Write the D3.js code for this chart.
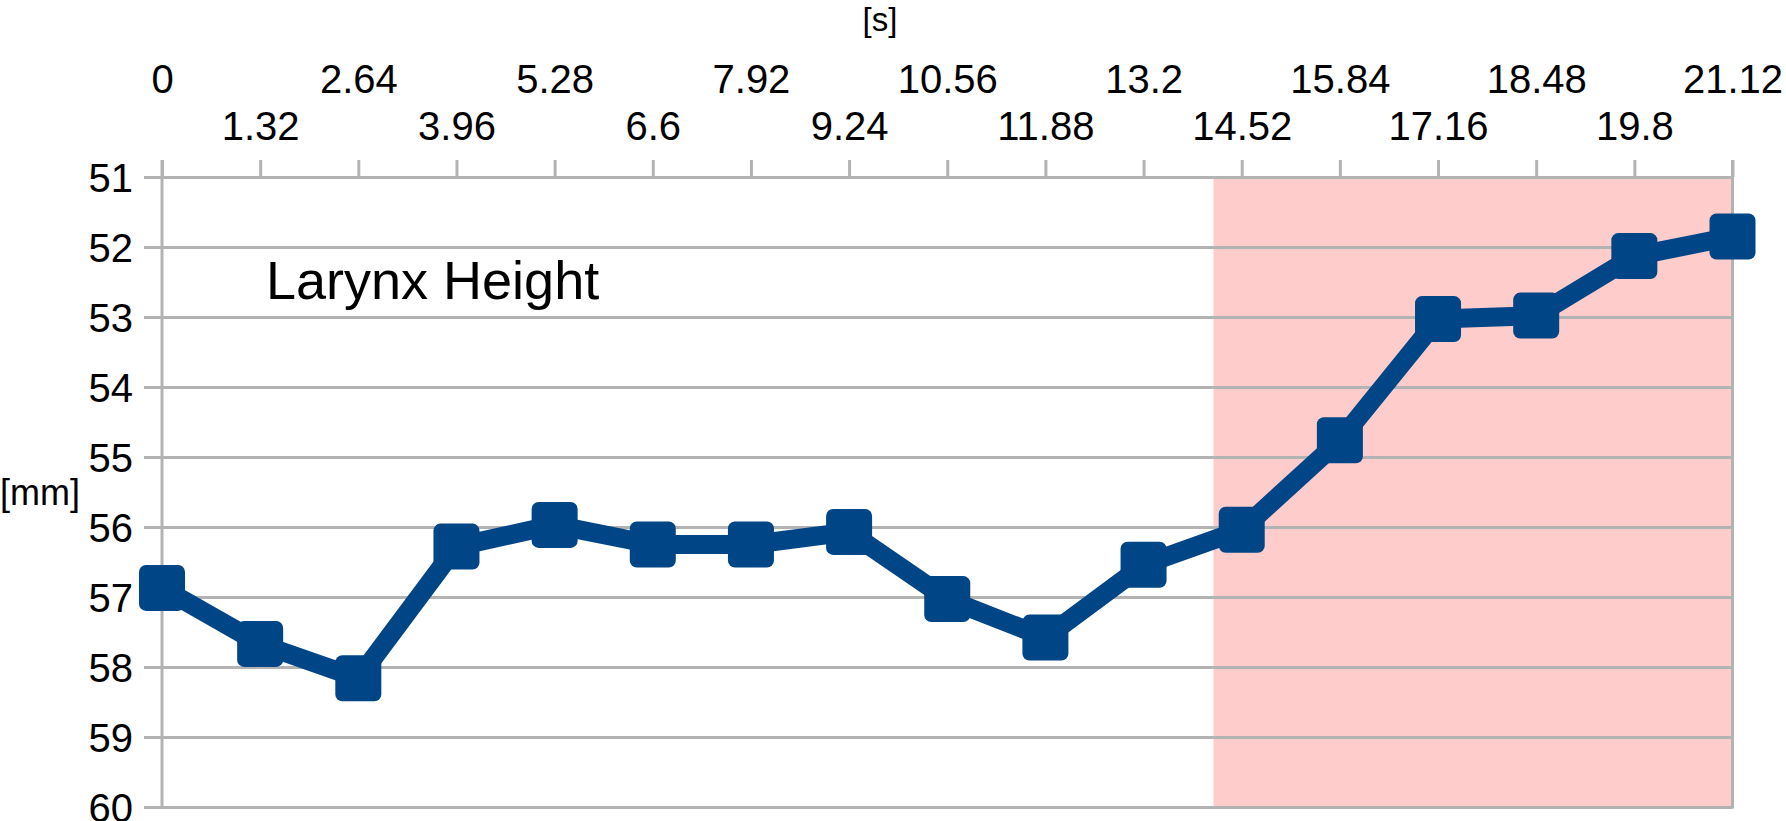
<!DOCTYPE html>
<html>
<head>
<meta charset="utf-8">
<script src="https://cdn.jsdelivr.net/npm/d3@7"></script>
<style>
  html, body { margin: 0; padding: 0; background: #ffffff; }
  svg { display: block; font-family: "Liberation Sans", Arial, sans-serif; }
</style>
</head>
<body>
<svg id="chart" width="1786" height="821"></svg>
<script>
// ---- data ----
const times = [0, 1.32, 2.64, 3.96, 5.28, 6.6, 7.92, 9.24, 10.56, 11.88, 13.2, 14.52, 15.84, 17.16, 18.48, 19.8, 21.12];
const timeLabels = ["0", "1.32", "2.64", "3.96", "5.28", "6.6", "7.92", "9.24", "10.56", "11.88", "13.2", "14.52", "15.84", "17.16", "18.48", "19.8", "21.12"];
const larynxHeight = [56.87, 57.67, 58.16, 56.28, 55.97, 56.25, 56.25, 56.07, 57.03, 57.58, 56.54, 56.04, 54.76, 53.03, 52.98, 52.13, 51.85];
const yTicks = [51, 52, 53, 54, 55, 56, 57, 58, 59, 60];
const highlightStart = 14.14;
const highlightEnd = 21.12;
const seriesName = "Larynx Height";
const xUnit = "[s]";
const yUnit = "[mm]";

// ---- layout ----
const X0 = 162, X1 = 1732.5, Y0 = 177, Y1 = 807;
const gridColor = "#b3b3b3";
const lineColor = "#004586";
const labelSize = 40;

const svg = d3.select("#chart");
const x = d3.scaleLinear().domain([0, 21.12]).range([X0, X1]);
const y = d3.scaleLinear().domain([51, 60]).range([Y0, Y1]);

// highlight band
svg.append("rect")
  .attr("x", x(highlightStart))
  .attr("y", y(51))
  .attr("width", x(highlightEnd) - x(highlightStart))
  .attr("height", y(60) - y(51))
  .attr("fill", "#ffcccc");

// horizontal gridlines + y ticks + labels
const yAxis = d3.axisLeft(y)
  .tickValues(yTicks)
  .tickSize(X1 - X0 + 18)
  .tickSizeOuter(0)
  .tickPadding(11)
  .tickFormat(d3.format("d"));
const gy = svg.append("g").attr("transform", `translate(${X1},0)`).call(yAxis);
gy.select(".domain").remove();
gy.selectAll(".tick line").attr("stroke", gridColor).attr("stroke-width", 3);
gy.selectAll(".tick text")
  .attr("fill", "#000")
  .attr("font-size", labelSize)
  .attr("font-family", "Liberation Sans, Arial, sans-serif")
  .attr("dy", "0.35em");

// top x axis ticks + labels (two staggered rows)
const xAxis = d3.axisTop(x)
  .tickValues(times)
  .tickSize(17)
  .tickSizeOuter(0)
  .tickFormat((d, i) => timeLabels[i]);
const gx = svg.append("g").attr("transform", `translate(0,${Y0})`).call(xAxis);
gx.select(".domain").remove();
gx.selectAll(".tick line").attr("stroke", gridColor).attr("stroke-width", 3);
gx.selectAll(".tick text")
  .attr("fill", "#000")
  .attr("font-size", labelSize)
  .attr("font-family", "Liberation Sans, Arial, sans-serif")
  .attr("dy", 0)
  .attr("y", (d, i) => (i % 2 === 0 ? -84 : -37.5));

// vertical axis lines (left and right)
svg.selectAll("line.vaxis")
  .data([times[0], times[times.length - 1]])
  .enter().append("line")
  .attr("class", "vaxis")
  .attr("x1", d => x(d)).attr("x2", d => x(d))
  .attr("y1", Y0 - 17).attr("y2", y(60) + 1.5)
  .attr("stroke", gridColor).attr("stroke-width", 3);

// data line
const pts = times.map((t, i) => [t, larynxHeight[i]]);
svg.append("path")
  .datum(pts)
  .attr("fill", "none")
  .attr("stroke", lineColor)
  .attr("stroke-width", 19)
  .attr("stroke-linejoin", "round")
  .attr("d", d3.line().x(d => x(d[0])).y(d => y(d[1])));

// markers
const M = 46;
svg.selectAll("rect.marker")
  .data(pts)
  .enter().append("rect")
  .attr("class", "marker")
  .attr("x", d => x(d[0]) - M / 2)
  .attr("y", d => y(d[1]) - M / 2)
  .attr("width", M).attr("height", M)
  .attr("rx", 7).attr("ry", 7)
  .attr("fill", lineColor);

// texts
svg.append("text")
  .attr("x", 266).attr("y", 299)
  .attr("font-size", 54)
  .attr("fill", "#000")
  .text(seriesName);

svg.append("text")
  .attr("x", 880).attr("y", 31)
  .attr("text-anchor", "middle")
  .attr("font-size", 33)
  .attr("fill", "#000")
  .text(xUnit);

svg.append("text")
  .attr("x", 80).attr("y", y(55.5) + 13)
  .attr("text-anchor", "end")
  .attr("font-size", 36)
  .attr("fill", "#000")
  .text(yUnit);
</script>
</body>
</html>
